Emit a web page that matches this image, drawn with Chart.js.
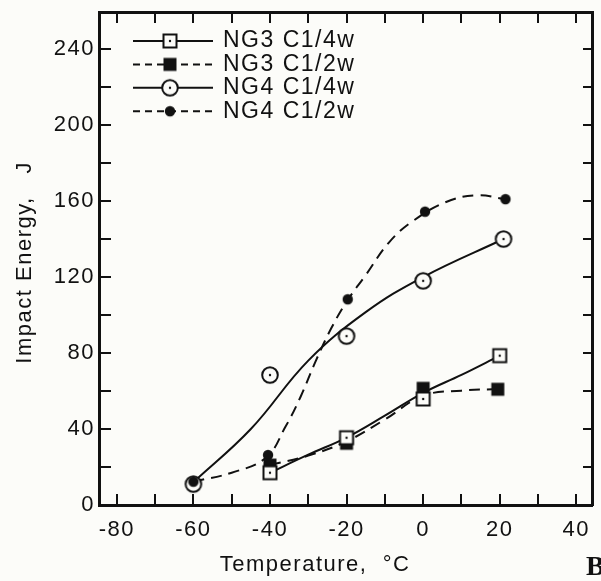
<!DOCTYPE html>
<html>
<head>
<meta charset="utf-8">
<script src="https://cdn.jsdelivr.net/npm/chart.js@4.4.1/dist/chart.umd.min.js"></script>
<style>
html,body{margin:0;padding:0;background:#fcfcf9;}
#wrap{width:601px;height:581px;position:relative;}
canvas{display:block;}
</style>
</head>
<body>
<div id="wrap"><canvas id="c" width="601" height="581"></canvas></div>
<script>
// ---- series names ----
const seriesNames = ['NG3 C1/4w', 'NG3 C1/2w', 'NG4 C1/4w', 'NG4 C1/2w'];

// ---- measured points (Temperature °C, Impact Energy J) ----
const ng3QuarterT = [-40, -20, 0, 20];
const ng3QuarterE = [17, 35.4, 55.8, 78.6];
const ng3HalfT = [-40, -20, 0, 19.5];
const ng3HalfE = [21, 32.5, 61.4, 60.9];
const ng4QuarterT = [-60, -40, -20, 0, 21];
const ng4QuarterE = [11, 68.4, 88.9, 118, 140];
const ng4HalfT = [-60, -40.5, -19.7, 0.5, 21.5];
const ng4HalfE = [12.3, 26.3, 108.3, 154.4, 161];

// ---- drawn trend curves ----
const ng3QuarterCurveT = [-40, -30, -20, -10, 0, 10, 20];
const ng3QuarterCurveE = [17, 26.5, 35.5, 47, 59, 68.5, 78.6];
const ng3HalfCurveT = [-40, -30, -20, -10, 0, 10, 19.5];
const ng3HalfCurveE = [21, 26, 33.5, 45, 57.5, 60.2, 61];
const ng4QuarterCurveT = [-60, -45, -30, -15, 0, 21];
const ng4QuarterCurveE = [12, 40, 76, 101.5, 120, 140];
const ng4HalfCurveT = [-60, -50, -41, -36, -32, -28, -24, -20, -15, -9, -3, 6, 14, 21.5];
const ng4HalfCurveE = [12.3, 17, 25, 41, 57, 76, 93, 107, 121, 138, 149, 159.5, 163, 161];

// ---- axes ----
const xTickValues = [-80, -70, -60, -50, -40, -30, -20, -10, 0, 10, 20, 30, 40];
const xLabelValues = [-80, -60, -40, -20, 0, 20, 40];
const yTickValues = [0, 20, 40, 60, 80, 100, 120, 140, 160, 180, 200, 220, 240];
const yLabelValues = [0, 40, 80, 120, 160, 200, 240];
const xMin = -84.65, xMax = 44.1, yMin = 0, yMax = 259.5;

const INK = '#111';

function pts(t, e) { return t.map((v, i) => ({x: v, y: e[i]})); }

function marker(size, draw) {
  const c = document.createElement('canvas');
  c.width = size; c.height = size;
  const g = c.getContext('2d');
  draw(g, size / 2);
  return c;
}
const openSquare = marker(18, (g, c) => {
  g.fillStyle = '#fcfcf9'; g.fillRect(c - 6.5, c - 6.5, 13, 13);
  g.strokeStyle = INK; g.lineWidth = 2; g.strokeRect(c - 6.5, c - 6.5, 13, 13);
  g.fillStyle = INK; g.beginPath(); g.arc(c, c, 1.2, 0, Math.PI * 2); g.fill();
});
const filledSquare = marker(16, (g, c) => {
  g.fillStyle = INK; g.fillRect(c - 6.5, c - 6.5, 13, 13);
});
const openCircle = marker(22, (g, c) => {
  g.fillStyle = '#fcfcf9'; g.beginPath(); g.arc(c, c, 7.8, 0, Math.PI * 2); g.fill();
  g.strokeStyle = INK; g.lineWidth = 2; g.stroke();
  g.fillStyle = INK; g.beginPath(); g.arc(c, c, 1.2, 0, Math.PI * 2); g.fill();
});
const filledCircle = marker(14, (g, c) => {
  g.fillStyle = INK; g.beginPath(); g.arc(c, c, 5.2, 0, Math.PI * 2); g.fill();
});

const markers = [openSquare, filledSquare, openCircle, filledCircle];
const curveDash = [[], [11, 7], [], [11, 7]];
const legendDash = [[], [7, 5], [], [7, 5]];

function curveDS(label, t, e, dash, order) {
  return {
    label, type: 'line', data: pts(t, e), borderColor: INK, borderWidth: 2,
    borderDash: dash, pointRadius: 0, tension: 0.4,
    fill: false, order
  };
}
function markerDS(label, t, e, style, order) {
  return {
    label, type: 'line', data: pts(t, e), showLine: false, pointStyle: style,
    pointRadius: 8, borderColor: INK, backgroundColor: INK, order
  };
}

function noPad(s) { s.paddingTop = 0; s.paddingBottom = 0; s.paddingLeft = 0; s.paddingRight = 0; }

const spacingPlugin = {
  id: 'spacing',
  beforeDraw(chart) { chart.ctx.letterSpacing = '1.5px'; }
};

const legendPlugin = {
  id: 'insideLegend',
  afterDatasetsDraw(chart) {
    const {ctx, chartArea: a} = chart;
    ctx.save();
    ctx.letterSpacing = '1.5px';
    seriesNames.forEach((name, i) => {
      const y = a.top + 29 + i * 23.4;
      ctx.strokeStyle = INK; ctx.lineWidth = 2;
      ctx.setLineDash(legendDash[i]);
      ctx.beginPath(); ctx.moveTo(a.left + 34, y); ctx.lineTo(a.left + 114, y); ctx.stroke();
      ctx.setLineDash([]);
      const m = markers[i];
      ctx.drawImage(m, a.left + 71 - m.width / 2, y - m.height / 2);
      ctx.fillStyle = INK;
      ctx.font = '23px "Liberation Sans", Arial, sans-serif';
      ctx.textBaseline = 'middle';
      ctx.textAlign = 'left';
      ctx.fillText(name, a.left + 124, y);
    });
    ctx.font = 'bold 28px "Liberation Serif", "Times New Roman", serif';
    ctx.textBaseline = 'alphabetic';
    ctx.fillText('B', 586, 575);
    ctx.restore();
  }
};

Chart.defaults.font.family = '"Liberation Sans", Arial, sans-serif';
Chart.defaults.color = INK;

new Chart(document.getElementById('c'), {
  type: 'line',
  data: {
    datasets: [
      markerDS(seriesNames[0], ng3QuarterT, ng3QuarterE, openSquare, 1),
      markerDS(seriesNames[1], ng3HalfT, ng3HalfE, filledSquare, 2),
      markerDS(seriesNames[3], ng4HalfT, ng4HalfE, filledCircle, 3),
      markerDS(seriesNames[2], ng4QuarterT, ng4QuarterE, openCircle, 4),
      curveDS(seriesNames[0] + ' curve', ng3QuarterCurveT, ng3QuarterCurveE, curveDash[0], 5),
      curveDS(seriesNames[1] + ' curve', ng3HalfCurveT, ng3HalfCurveE, curveDash[1], 6),
      curveDS(seriesNames[2] + ' curve', ng4QuarterCurveT, ng4QuarterCurveE, curveDash[2], 7),
      curveDS(seriesNames[3] + ' curve', ng4HalfCurveT, ng4HalfCurveE, curveDash[3], 8)
    ]
  },
  options: {
    responsive: false,
    devicePixelRatio: 1,
    animation: false,
    layout: {padding: 0},
    plugins: {legend: {display: false}, tooltip: {enabled: false}},
    scales: {
      x: {
        type: 'linear', position: 'bottom', min: xMin, max: xMax,
        afterBuildTicks: s => { s.ticks = xTickValues.map(v => ({value: v})); },
        afterFit: s => { s.height = 76; noPad(s); },
        ticks: {
          autoSkip: false, maxRotation: 0, minRotation: 0, padding: 23, color: INK,
          font: {size: 22},
          callback: v => xLabelValues.includes(v) ? String(v) : ''
        },
        grid: {drawOnChartArea: false, drawTicks: true, tickLength: -11, color: INK, lineWidth: 2},
        border: {display: true, color: INK, width: 3},
        title: {
          display: true, text: 'Temperature,  °C        ', color: INK,
          font: {size: 22}, padding: {top: 0, bottom: 3}
        }
      },
      x2: {
        type: 'linear', position: 'top', min: xMin, max: xMax,
        afterBuildTicks: s => { s.ticks = xTickValues.map(v => ({value: v})); },
        afterFit: s => { s.height = 12; noPad(s); },
        ticks: {display: false, autoSkip: false},
        grid: {drawOnChartArea: false, drawTicks: true, tickLength: -11, color: INK, lineWidth: 2},
        border: {display: true, color: INK, width: 3}
      },
      y: {
        type: 'linear', position: 'left', min: yMin, max: yMax,
        afterBuildTicks: s => { s.ticks = yTickValues.map(v => ({value: v})); },
        afterFit: s => { s.width = 99; noPad(s); },
        ticks: {
          autoSkip: false, padding: 16, color: INK, font: {size: 22},
          callback: v => yLabelValues.includes(v) ? String(v) : ''
        },
        grid: {drawOnChartArea: false, drawTicks: true, tickLength: -12, color: INK, lineWidth: 2},
        border: {display: true, color: INK, width: 3},
        title: {
          display: true, text: 'Impact Energy,   J ', color: INK,
          font: {size: 22}, padding: {top: 12, bottom: 0}
        }
      },
      y2: {
        type: 'linear', position: 'right', min: yMin, max: yMax,
        afterBuildTicks: s => { s.ticks = yTickValues.map(v => ({value: v})); },
        afterFit: s => { s.width = 3; noPad(s); },
        ticks: {display: false, autoSkip: false},
        grid: {drawOnChartArea: false, drawTicks: true, tickLength: -9, color: INK, lineWidth: 2},
        border: {display: true, color: INK, width: 3}
      }
    }
  },
  plugins: [spacingPlugin, legendPlugin]
});
</script>
</body>
</html>
